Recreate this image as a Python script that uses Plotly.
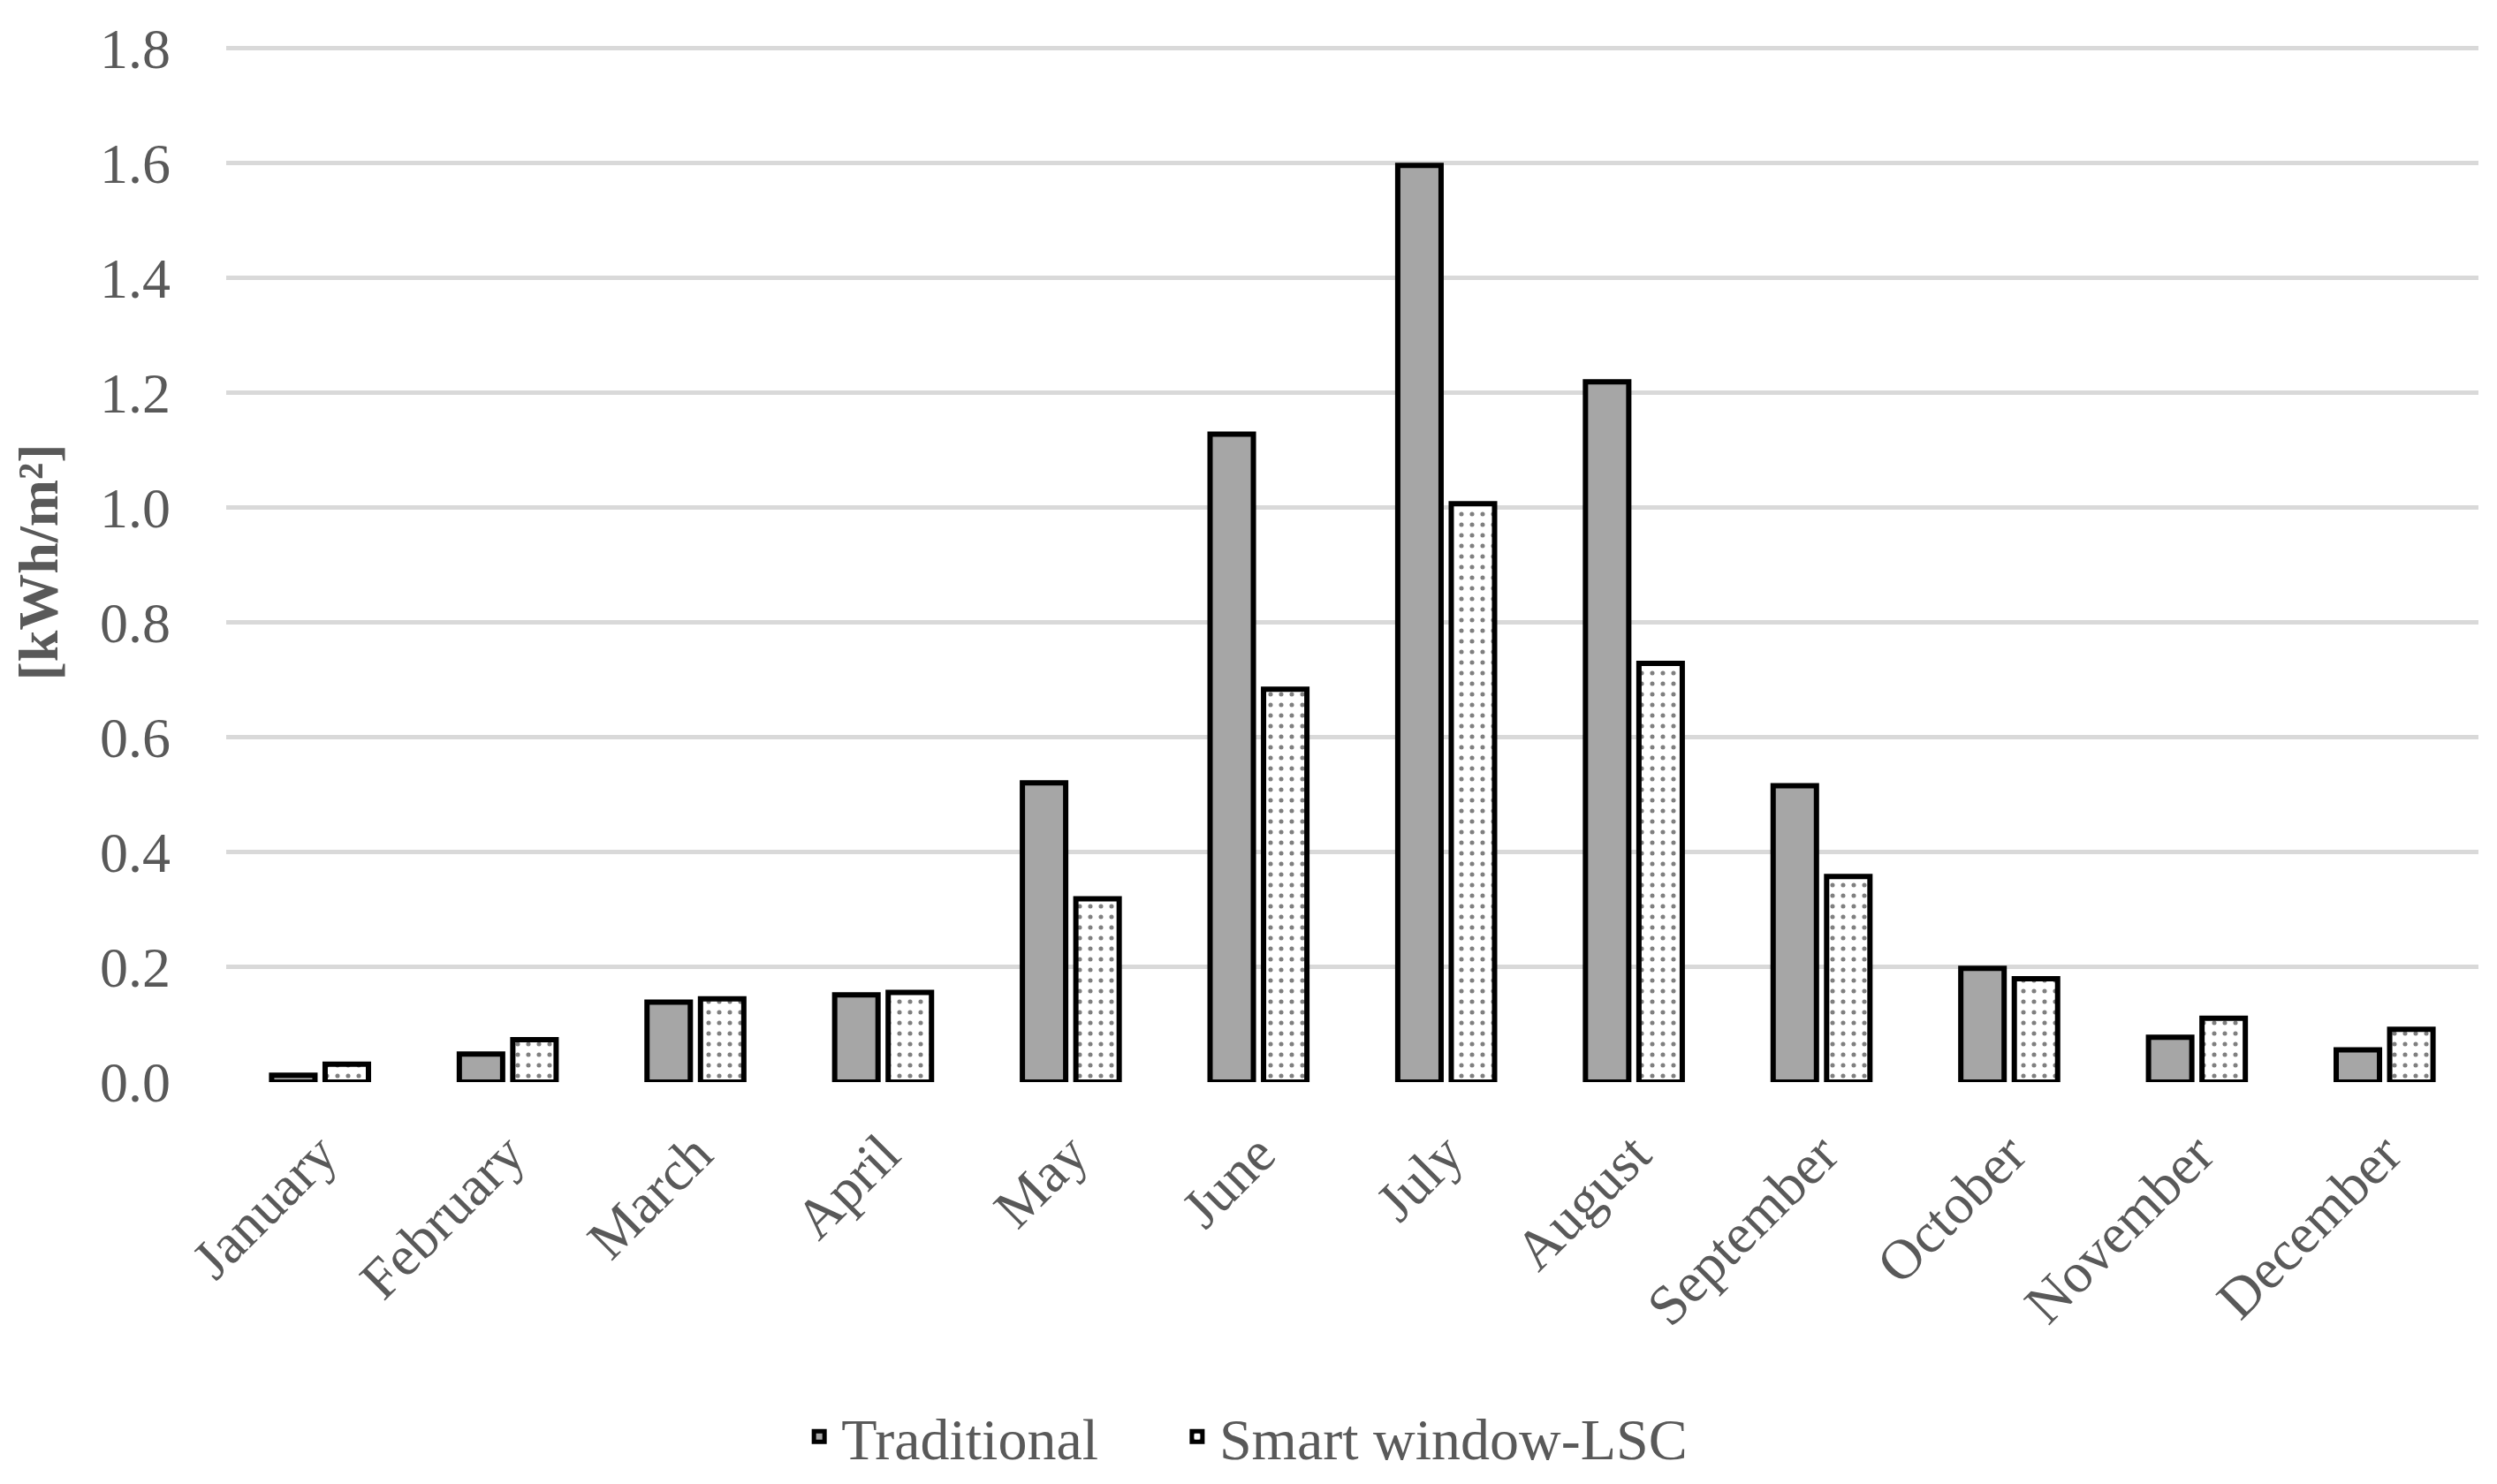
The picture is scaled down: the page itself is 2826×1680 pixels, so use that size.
import plotly.graph_objects as go

months = ["January", "February", "March", "April", "May", "June", "July",
          "August", "September", "October", "November", "December"]
traditional = [0.012, 0.049, 0.139, 0.152, 0.521, 1.128, 1.596, 1.219, 0.516, 0.198, 0.078, 0.056]
smart_lsc = [0.031, 0.074, 0.145, 0.156, 0.319, 0.684, 1.007, 0.729, 0.358, 0.180, 0.111, 0.092]
y_ticks = [0.0, 0.2, 0.4, 0.6, 0.8, 1.0, 1.2, 1.4, 1.6, 1.8]

FONT = "Liberation Serif"
TXT = "#595959"

fig = go.Figure()
fig.add_trace(go.Bar(
    x=months, y=traditional, name="Traditional", legend="legend",
    marker=dict(color="#a6a6a6", line=dict(color="black", width=6)),
))
fig.add_trace(go.Bar(
    x=months, y=smart_lsc, name="Smart window-LSC", legend="legend2",
    marker=dict(color="white", line=dict(color="black", width=6),
                pattern=dict(shape=".", fgcolor="black", bgcolor="white",
                             size=12, solidity=0.14, fillmode="overlay")),
))

legend_common = dict(orientation="h", xanchor="left", y=-0.341, yanchor="middle",
                     font=dict(family=FONT, size=66, color=TXT), itemwidth=40,
                     bgcolor="rgba(0,0,0,0)")

fig.update_layout(
    width=2826, height=1680,
    margin=dict(l=248, r=29, t=40, b=448),
    paper_bgcolor="white", plot_bgcolor="white",
    barmode="group", bargap=0.43, bargroupgap=0.19,
    font=dict(family=FONT, color=TXT, size=62),
    showlegend=True,
    legend=dict(x=0.2535, **legend_common),
    legend2=dict(x=0.4213, **legend_common),
)
fig.update_yaxes(
    range=[0, 1.81], tickvals=y_ticks, tickformat=".1f",
    showgrid=True, gridcolor="#d9d9d9", gridwidth=5,
    zeroline=False, showline=False,
    tickfont=dict(family=FONT, size=64, color=TXT),
    ticklabelstandoff=62,
    title=dict(text="<b>[kWh/m²]</b>", font=dict(family=FONT, size=64, color=TXT), standoff=30),
)
fig.update_xaxes(
    tickangle=-45, showgrid=False, showline=False, zeroline=False,
    tickfont=dict(family=FONT, size=64, color=TXT),
    ticklabelstandoff=30,
)

fig.write_html("out.html")
